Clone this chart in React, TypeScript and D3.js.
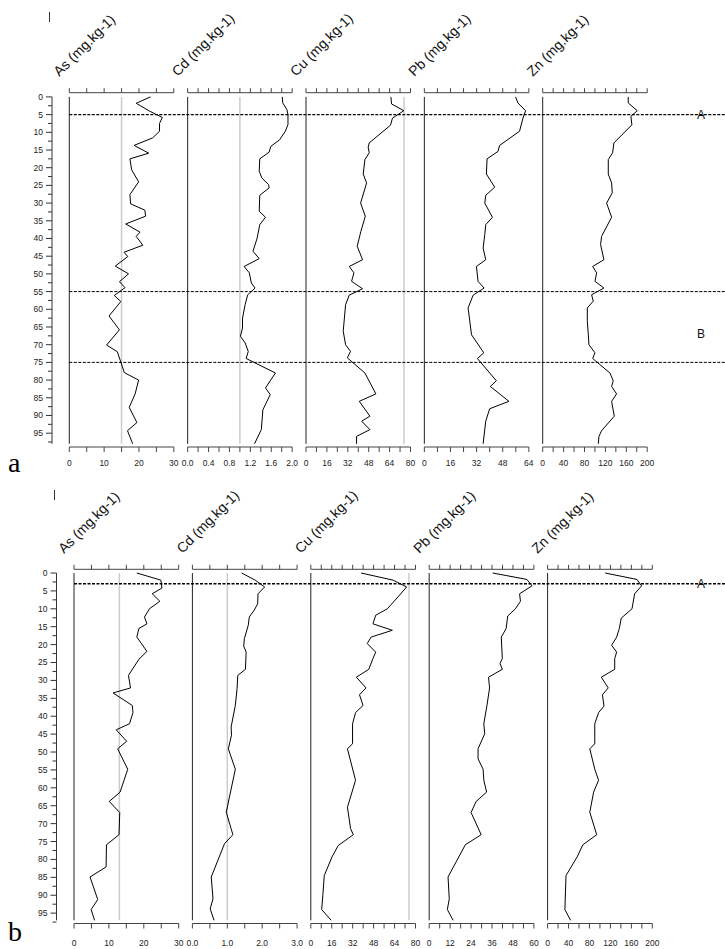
import * as d3 from 'd3';

const elements = ['As', 'Cd', 'Cu', 'Pb', 'Zn'];
const unitText = ' (mg.kg-1)';

// core a: [depth cm, value mg/kg]
const asA = [[0,23.3],[1.8,19.2],[4,23],[5.8,26.7],[7.5,25.9],[9.7,25.9],[11.6,23.9],[13.7,18.6],[15.9,22.8],[17.5,17.4],[20.6,17.9],[24,19.9],[27.6,17.4],[30.2,17.6],[32,21.7],[33.7,21.9],[35.9,16.2],[38.2,20.3],[39.4,19.2],[41.9,21.1],[43.9,15.7],[45.1,16.8],[47.8,13.2],[50,17],[52.2,14.4],[53.9,16],[56.1,12.9],[57.8,14.8],[61.9,11.4],[65.8,14.4],[70.1,10.7],[72,13.8],[77.9,15.8],[80,19.9],[83.9,18.9],[87.7,17.2],[92,19.4],[94.3,16.7],[98,18.2]];
const cdA = [[0,1.81],[1.7,1.82],[3.6,1.9],[5,1.92],[7.8,1.92],[9.7,1.87],[12.1,1.76],[14,1.59],[15.6,1.56],[17.5,1.38],[21,1.37],[22.9,1.42],[24.8,1.55],[25.7,1.56],[27.8,1.38],[32.3,1.37],[34,1.49],[36.1,1.38],[39.9,1.33],[43.6,1.25],[45.7,1.37],[47.9,1.08],[49.7,1.18],[52.6,1.22],[54,1.29],[55.9,1.15],[58.7,1.1],[62.5,1.05],[65.3,1.05],[67.6,1.01],[69.5,1.1],[71.9,1.16],[73.9,1.12],[78,1.68],[82.2,1.49],[84.1,1.58],[88.4,1.44],[94,1.41],[98,1.28]];
const cuA = [[0,65],[2,65.5],[3.9,74.9],[6,66.2],[8,64.7],[13,48.4],[14.2,47.6],[15.8,48.4],[17.7,45.1],[21.8,43.8],[24.3,46.4],[30,41.8],[33.7,45.4],[38,42],[42.2,39.2],[46,43.3],[47.9,33.1],[49.7,36.7],[52.1,34.9],[54.2,43.3],[56,33.1],[58.7,30.3],[66.2,28.5],[70,30.3],[71.9,34.1],[73.7,31.6],[78,45.1],[83.9,53.5],[86,40.8],[90.2,48.9],[91.6,42.6],[94,48.9],[95.9,38.7],[98,38.7]];
const pbA = [[0,55.9],[1.7,57.3],[3.9,62],[6,60.4],[9.7,58.3],[13.7,46.1],[15.4,45.1],[17.5,38.4],[21.8,38],[25.5,43.1],[27.8,37.6],[30,37],[34,41.7],[36.1,37.6],[38.9,37],[42.7,36],[46,37.6],[47.9,31.9],[52.1,32.9],[54,36.6],[56,29.9],[59.6,26.8],[67.2,28.9],[72.3,36.4],[73.9,32.5],[80.2,44.1],[81.8,40.4],[86,51.8],[88.1,40],[91.6,37.6],[98,36]];
const znA = [[0,163.7],[1.7,163.7],[3.9,180.9],[5.5,168.8],[7.9,170.7],[13,136.3],[15.8,133.8],[17.7,125.5],[21.8,125.5],[24.3,131.9],[27.1,133.1],[30,122.3],[34,131.9],[39.4,112.7],[41.7,110.8],[46,117.2],[47.9,95.6],[49.7,103.2],[52.1,100],[54,117.2],[55.9,93.6],[57.7,96.8],[59.6,85.4],[63.4,85.4],[67.2,87.3],[70,88.5],[72.3,100],[73.9,95.6],[78,128.7],[80.2,135],[81.8,131.9],[83.9,141.4],[86,131.9],[90.2,137],[94.3,112.7],[95.9,107.7],[98,106.4]];

const maxA = [30, 2.0, 80, 64, 200];
const tickStepA = [5, 0.2, 8, 8, 20];
const labelsA = [[0, 10, 20, 30], [0, 0.4, 0.8, 1.2, 1.6, 2.0], [0, 16, 32, 48, 64, 80], [0, 16, 32, 48, 64], [0, 40, 80, 120, 160, 200]];
const refA = [15, 1.0, 75, null, null];
const zoneLinesA = [5, 55, 75];
const zoneNamesA = ['A', 'B'];
const zoneNameDepthA = [5, 67];

// core b
const asB = [[0,18],[2,24.9],[4.2,25.2],[5.8,22.4],[7.9,24.6],[10,21.6],[12.3,20.2],[14.2,20.9],[15.5,18.6],[17.9,18],[21.9,20.9],[24.1,18.6],[28.6,15.6],[32.1,16.2],[33.5,11.2],[37,16.7],[39,16.9],[42.1,15.9],[43.8,12.1],[47,15.1],[49.1,12.5],[54.8,15.4],[61.2,13.2],[63.8,10.1],[66.9,13.1],[73.1,12.9],[75.9,9.3],[82.1,9.2],[84.9,4.6],[91.2,6.8],[94,4.9],[97,5.9]];
const cdB = [[0,1.41],[2,1.8],[3.9,2.07],[5.8,1.88],[8.6,1.87],[10.4,1.77],[12.3,1.63],[14.6,1.6],[18.3,1.49],[20.4,1.47],[22.1,1.54],[26.9,1.52],[28.6,1.3],[32.3,1.28],[37,1.23],[43,1.11],[45.3,1.12],[49.1,1.03],[54.8,1.23],[66.8,0.97],[73.1,1.16],[75.6,0.92],[84.9,0.54],[91,0.59],[93.8,0.51],[97,0.62]];
const cuB = [[0,38.4],[2,62.9],[3.9,73.2],[6.4,67.3],[10,58.5],[11.8,49.6],[14.2,47.5],[16,62.3],[17.9,46.1],[19.7,43.1],[22.1,49.6],[23.9,47.5],[26.9,44.3],[29.1,34.8],[32.1,42.2],[34,37.2],[37,39.9],[39,34.2],[42.1,31.9],[47.7,31.9],[49.1,28],[57.9,34.2],[65.4,28],[71.4,30.4],[73.1,32.5],[76.1,21],[79.3,16.2],[84.5,10.3],[90,9.2],[94,8.3],[97,15.6]];
const pbB = [[0,36.4],[1.8,56],[3.6,58.9],[5.8,51.8],[7.9,52.3],[10,49.4],[12,45],[15.5,44.1],[17.9,41.3],[23.9,41.9],[25.3,40.6],[26.9,41.9],[29.1,34],[32.1,34.6],[37,33.1],[42.1,31.3],[44.9,31.8],[49.1,28],[51.9,28],[54.8,30.9],[57.9,31.3],[61.2,32.9],[63.8,26.9],[66.9,24],[73.1,29.8],[75.9,20.7],[84.9,10.8],[91,11.5],[94,10.4],[97,13.7]];
const znB = [[0,109.9],[1.8,170.7],[3.6,179.5],[5.8,166.3],[10,161.2],[12.6,140.7],[15.5,137],[17.9,131.9],[20.2,122.3],[22.1,131.9],[23.9,128.2],[26.9,128.2],[29.1,102.6],[32.1,115.8],[34,104.8],[37.2,107.7],[39,97.4],[42.1,90.1],[47.7,90.1],[49.1,80.6],[54.8,90.1],[57.9,97.4],[61.2,87.9],[66.8,80.6],[73.1,93.8],[75.9,67.4],[79.3,56.4],[84.5,35.2],[94,33],[97,44]];

const maxB = [30, 3.0, 80, 60, 200];
const tickStepB = [5, 0.5, 8, 6, 20];
const labelsB = [[0, 10, 20, 30], [0, 1.0, 2.0, 3.0], [0, 16, 32, 48, 64, 80], [0, 12, 24, 36, 48, 60], [0, 40, 80, 120, 160, 200]];
const refB = [13, 1.0, 75, null, null];
const zoneLinesB = [3];
const zoneNamesB = ['A'];
const zoneNameDepthB = [3];

const depthLabels = d3.range(0, 96, 5);
const depthMinor = d3.range(2.5, 98, 5);

const FONT = "'Liberation Sans', Arial, sans-serif";

type Layout = {
  axisX: number; x0: number; step: number; width: number;
  y0: number; y1: number; depthMax: number;
  topAxisY: number; botAxisY: number; labelDy: number; titleY: number;
  letter: string; letterY: number; barY: number; barX: number;
};

function Core(props: {
  lay: Layout; series: number[][][]; maxs: number[]; steps: number[]; labels: number[][];
  refs: (number | null)[]; zones: number[]; zoneNames: string[]; zoneNameDepth: number[];
}) {
  const { lay, series, maxs, steps, labels, refs, zones, zoneNames, zoneNameDepth } = props;
  const y = d3.scaleLinear().domain([0, lay.depthMax]).range([lay.y0, lay.y1]);
  const fmtCd = d3.format('.1f');
  return (
    <g>
      {/* depth axis */}
      <line x1={lay.axisX} x2={lay.axisX} y1={y(0)} y2={y(lay.depthMax)} stroke="#333" />
      {depthLabels.map((d) => (
        <g key={'d' + d}>
          <line x1={lay.axisX - 6} x2={lay.axisX} y1={y(d)} y2={y(d)} stroke="#333" />
          <text x={lay.axisX - 9} y={y(d)} dy="0.35em" textAnchor="end" fontSize={8.5} fill="#222" fontFamily={FONT}>{d}</text>
        </g>
      ))}
      {depthMinor.map((d) => (
        <line key={'m' + d} x1={lay.axisX - 4} x2={lay.axisX} y1={y(d)} y2={y(d)} stroke="#333" />
      ))}
      {series.map((s, i) => {
        const left = lay.x0 + i * lay.step;
        const x = d3.scaleLinear().domain([0, maxs[i]]).range([left, left + lay.width]);
        const ticks = d3.range(0, Math.round(maxs[i] / steps[i]) + 1).map((k) => k * steps[i]);
        const line = d3.line<number[]>().x((p) => x(p[1])).y((p) => y(p[0]));
        const fmt = elements[i] === 'Cd' ? fmtCd : (v: number) => String(v);
        return (
          <g key={elements[i]}>
            <text transform={`translate(${left - 10},${lay.titleY}) rotate(-45)`} fontSize={14} fill="#111" fontFamily={FONT}>
              {elements[i] + unitText}
            </text>
            {/* top axis */}
            <line x1={x(0)} x2={x(maxs[i])} y1={lay.topAxisY} y2={lay.topAxisY} stroke="#444" />
            {ticks.map((t) => (
              <line key={'t' + t} x1={x(t)} x2={x(t)} y1={lay.topAxisY} y2={lay.topAxisY - 4.5} stroke="#444" />
            ))}
            {/* bottom axis */}
            <line x1={x(0)} x2={x(maxs[i])} y1={lay.botAxisY} y2={lay.botAxisY} stroke="#444" />
            {ticks.map((t) => (
              <line key={'b' + t} x1={x(t)} x2={x(t)} y1={lay.botAxisY} y2={lay.botAxisY + 5} stroke="#444" />
            ))}
            {labels[i].map((t) => (
              <text key={'l' + t} x={x(t)} y={lay.botAxisY + lay.labelDy} textAnchor="middle" fontSize={8.5} fill="#222" fontFamily={FONT}>
                {fmt(t)}
              </text>
            ))}
            {refs[i] !== null && (
              <line x1={x(refs[i] as number)} x2={x(refs[i] as number)} y1={y(0)} y2={y(lay.depthMax)} stroke="#ccc" strokeWidth={1.5} />
            )}
            <line x1={left} x2={left} y1={y(0)} y2={y(lay.depthMax)} stroke="#222" />
            <path d={line(s) || ''} fill="none" stroke="#000" strokeWidth={1} />
          </g>
        );
      })}
      {zones.map((z, i) => (
        <line key={'z' + z} x1={lay.x0} x2={725} y1={y(z)} y2={y(z)} stroke="#000" strokeWidth={i === 0 ? 1.4 : 1} strokeDasharray="3,1.5" />
      ))}
      {zoneNames.map((n, i) => (
        <text key={'n' + n} x={701} y={y(zoneNameDepth[i])} dy="0.36em" textAnchor="middle" fontSize={12} fill="#111" fontFamily={FONT}>{n}</text>
      ))}
      <text x={8} y={lay.letterY} fontSize={28} fontFamily="'Liberation Serif', 'Times New Roman', serif" fill="#000">{lay.letter}</text>
      <line x1={lay.barX} x2={lay.barX} y1={lay.barY} y2={lay.barY + 10} stroke="#333" />
    </g>
  );
}

const layA: Layout = {
  axisX: 52, x0: 69.3, step: 118.35, width: 104.5, y0: 96.9, y1: 443.8, depthMax: 98,
  topAxisY: 92.7, botAxisY: 447, labelDy: 18.5, titleY: 77, letter: 'a', letterY: 472, barY: 12, barX: 49.5,
};
const layB: Layout = {
  axisX: 56.5, x0: 74, step: 118.4, width: 104.7, y0: 573, y1: 920.3, depthMax: 97,
  topAxisY: 569.3, botAxisY: 923.5, labelDy: 22, titleY: 554, letter: 'b', letterY: 941, barY: 490, barX: 54.5,
};

export default function App() {
  return (
    <svg width={725} height={949} style={{ position: 'absolute', left: 0, top: 0, background: '#fff' }}>
      <rect width={725} height={949} fill="#fff" />
      <Core lay={layA} series={[asA, cdA, cuA, pbA, znA]} maxs={maxA} steps={tickStepA} labels={labelsA}
        refs={refA} zones={zoneLinesA} zoneNames={zoneNamesA} zoneNameDepth={zoneNameDepthA} />
      <Core lay={layB} series={[asB, cdB, cuB, pbB, znB]} maxs={maxB} steps={tickStepB} labels={labelsB}
        refs={refB} zones={zoneLinesB} zoneNames={zoneNamesB} zoneNameDepth={zoneNameDepthB} />
    </svg>
  );
}
